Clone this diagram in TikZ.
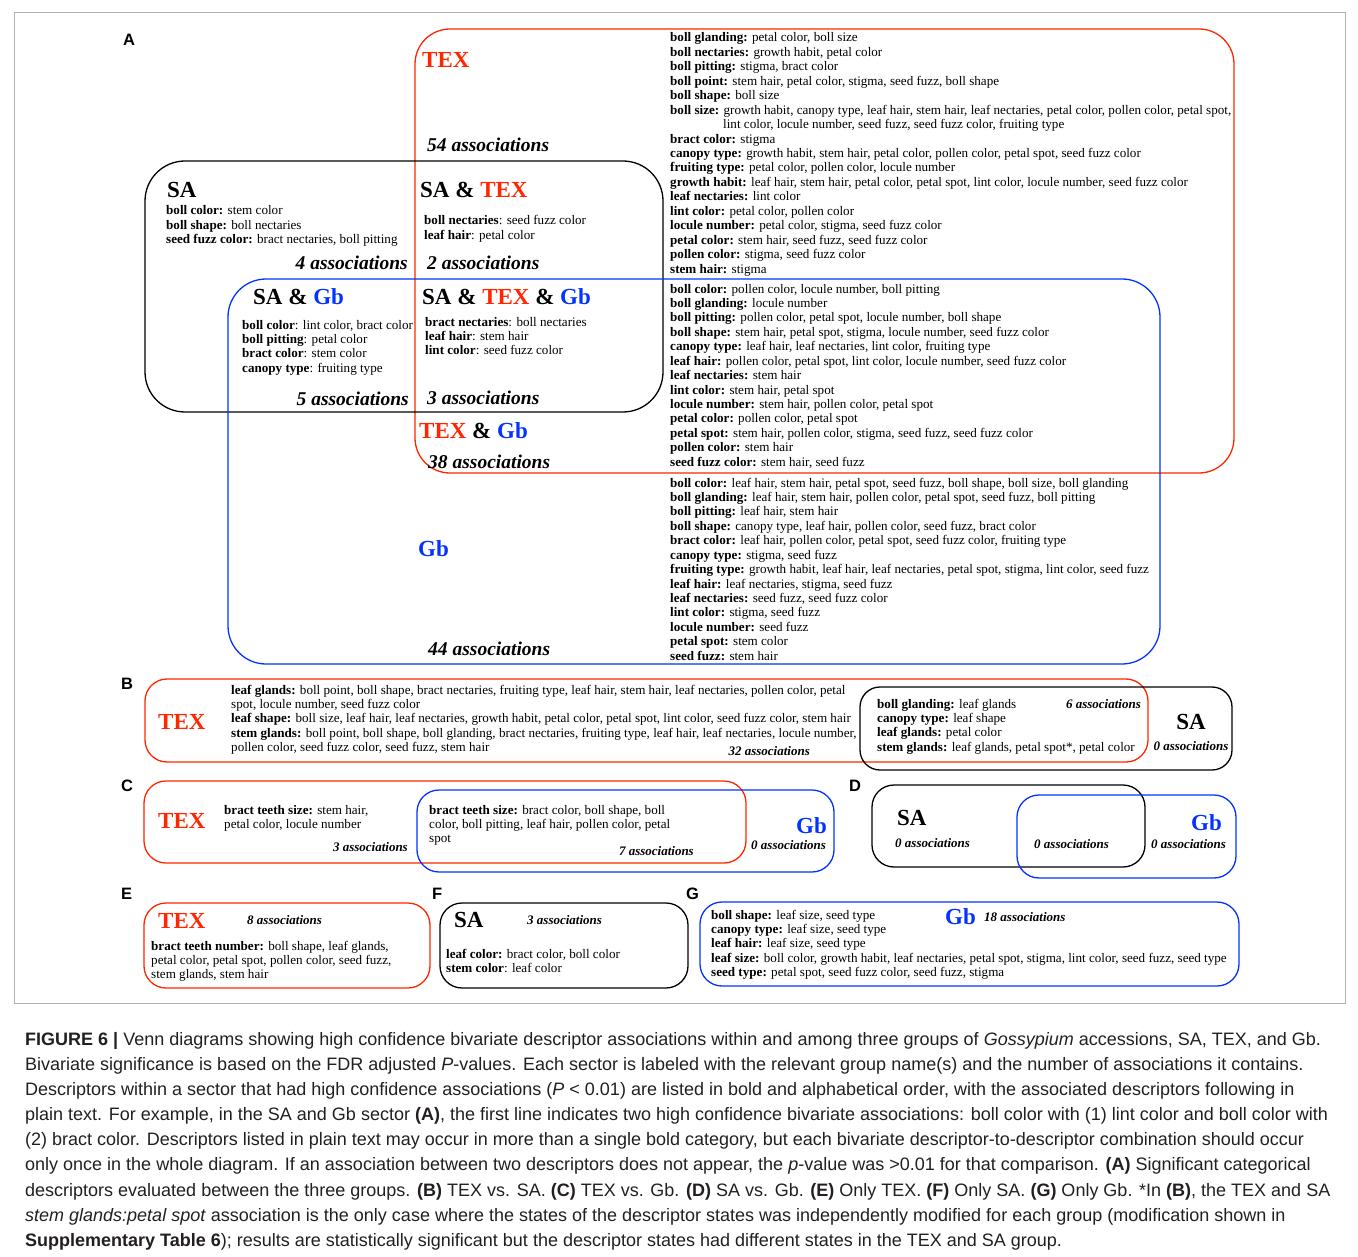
\documentclass[tikz,border=0pt]{standalone}
\usepackage{fontspec}
\setmainfont{Liberation Serif}
\newfontfamily\capfont{Liberation Sans}
\definecolor{texred}{RGB}{255,38,0}
\definecolor{gbblue}{RGB}{4,51,255}
\definecolor{capgray}{RGB}{35,31,32}
\newcommand{\texname}{\textcolor{texred}{TEX}}
\newcommand{\gbname}{\textcolor{gbblue}{Gb}}

\begin{document}
\begin{tikzpicture}
	[x=1pt,y=-1pt,every node/.style={inner sep=0pt},
		tex box/.style={draw=texred,line width=1.3pt,rounded corners=#1},
		sa box/.style={draw=black,line width=1.3pt,rounded corners=#1},
		gb box/.style={draw=gbblue,line width=1.3pt,rounded corners=#1},
		group/.style={font=\fontsize{23}{26}\selectfont\bfseries,anchor=base west},
		big assoc/.style={font=\fontsize{19.5}{22}\selectfont\bfseries\itshape,anchor=base west},
		small assoc/.style={font=\fontsize{13}{15}\selectfont\bfseries\itshape,anchor=base west},
		desc/.style={font=\fontsize{13.1}{14.44}\selectfont,align=left,anchor=base west,yshift={-(#1-1)*14.44pt}},
		panel/.style={font=\capfont\fontsize{16.5}{18}\selectfont\bfseries,anchor=base west},
		caption line/.style={font=\capfont\fontsize{18}{20}\selectfont,text=capgray,anchor=base west}]

	\useasboundingbox (0,0) rectangle (1358,1257);
	\draw[black!30,line width=0.6pt] (14,12) rectangle (1345,1003);

	% panel A
	\node[panel] (pA) at (123,46) {A};
	\draw[tex box=35] (415,29) rectangle (1234,473);
	\draw[sa box=40] (145,161) rectangle (663,412);
	\draw[gb box=38] (228,279) rectangle (1160,664);

	\node[group,text=texred] (texA) at (422,68) {TEX};
	\node[big assoc] (texAn) at (427,152) {54 associations};
	\node[desc=17] (texAd) at (670,42) {\textbf{boll glanding:} petal color, boll size\\
		\textbf{boll nectaries:} growth habit, petal color\\
		\textbf{boll pitting:} stigma, bract color\\
		\textbf{boll point:} stem hair, petal color, stigma, seed fuzz, boll shape\\
		\textbf{boll shape:} boll size\\
		\textbf{boll size:} growth habit, canopy type, leaf hair, stem hair, leaf nectaries, petal color, pollen color, petal spot,\\
		\hspace*{53pt}lint color, locule number, seed fuzz, seed fuzz color, fruiting type\\
		\textbf{bract color:} stigma\\
		\textbf{canopy type:} growth habit, stem hair, petal color, pollen color, petal spot, seed fuzz color\\
		\textbf{fruiting type:} petal color, pollen color, locule number\\
		\textbf{growth habit:} leaf hair, stem hair, petal color, petal spot, lint color, locule number, seed fuzz color\\
		\textbf{leaf nectaries:} lint color\\
		\textbf{lint color:} petal color, pollen color\\
		\textbf{locule number:} petal color, stigma, seed fuzz color\\
		\textbf{petal color:} stem hair, seed fuzz, seed fuzz color\\
		\textbf{pollen color:} stigma, seed fuzz color\\
		\textbf{stem hair:} stigma};

	\node[group] (saA) at (167,198) {SA};
	\node[desc=3] (saAd) at (166,215) {\textbf{boll color:} stem color\\
		\textbf{boll shape:} boll nectaries\\
		\textbf{seed fuzz color:} bract nectaries, boll pitting};
	\node[big assoc,anchor=base east] (saAn) at (408,270) {4 associations};

	\node[group] (satexA) at (420,198) {SA \& \texname};
	\node[desc=2] (satexAd) at (424,225) {\textbf{boll nectaries}: seed fuzz color\\
		\textbf{leaf hair}: petal color};
	\node[big assoc] (satexAn) at (427,270) {2 associations};

	\node[group] (sagbA) at (253,305) {SA \& \gbname};
	\node[desc=4] (sagbAd) at (242,329) {\textbf{boll color}: lint color, bract color\\
		\textbf{boll pitting}: petal color\\
		\textbf{bract color}: stem color\\
		\textbf{canopy type}: fruiting type};
	\node[big assoc,anchor=base east] (sagbAn) at (409,406) {5 associations};

	\node[group] (allA) at (422,305) {SA \& \texname{} \& \gbname};
	\node[desc=3] (allAd) at (425,326) {\textbf{bract nectaries}: boll nectaries\\
		\textbf{leaf hair}: stem hair\\
		\textbf{lint color}: seed fuzz color};
	\node[big assoc] (allAn) at (427,404) {3 associations};

	\node[group] (texgbA) at (419,438) {\texname{} \& \gbname};
	\node[big assoc] (texgbAn) at (428,468) {38 associations};
	\node[desc=13] (texgbAd) at (670,293) {\textbf{boll color:} pollen color, locule number, boll pitting\\
		\textbf{boll glanding:} locule number\\
		\textbf{boll pitting:} pollen color, petal spot, locule number, boll shape\\
		\textbf{boll shape:} stem hair, petal spot, stigma, locule number, seed fuzz color\\
		\textbf{canopy type:} leaf hair, leaf nectaries, lint color, fruiting type\\
		\textbf{leaf hair:} pollen color, petal spot, lint color, locule number, seed fuzz color\\
		\textbf{leaf nectaries:} stem hair\\
		\textbf{lint color:} stem hair, petal spot\\
		\textbf{locule number:} stem hair, pollen color, petal spot\\
		\textbf{petal color:} pollen color, petal spot\\
		\textbf{petal spot:} stem hair, pollen color, stigma, seed fuzz, seed fuzz color\\
		\textbf{pollen color:} stem hair\\
		\textbf{seed fuzz color:} stem hair, seed fuzz};

	\node[group,text=gbblue] (gbA) at (418,556) {Gb};
	\node[big assoc] (gbAn) at (428,655) {44 associations};
	\node[desc=13] (gbAd) at (670,487) {\textbf{boll color:} leaf hair, stem hair, petal spot, seed fuzz, boll shape, boll size, boll glanding\\
		\textbf{boll glanding:} leaf hair, stem hair, pollen color, petal spot, seed fuzz, boll pitting\\
		\textbf{boll pitting:} leaf hair, stem hair\\
		\textbf{boll shape:} canopy type, leaf hair, pollen color, seed fuzz, bract color\\
		\textbf{bract color:} leaf hair, pollen color, petal spot, seed fuzz color, fruiting type\\
		\textbf{canopy type:} stigma, seed fuzz\\
		\textbf{fruiting type:} growth habit, leaf hair, leaf nectaries, petal spot, stigma, lint color, seed fuzz\\
		\textbf{leaf hair:} leaf nectaries, stigma, seed fuzz\\
		\textbf{leaf nectaries:} seed fuzz, seed fuzz color\\
		\textbf{lint color:} stigma, seed fuzz\\
		\textbf{locule number:} seed fuzz\\
		\textbf{petal spot:} stem color\\
		\textbf{seed fuzz:} stem hair};

	% panel B
	\node[panel] (pB) at (121,689) {B};
	\draw[tex box=22] (145,679) rectangle (1148,762);
	\draw[sa box=20] (860,687) rectangle (1232,770);
	\node[group,text=texred] (texB) at (158,729) {TEX};
	\node[desc=5] (texBd) at (231,694) {\textbf{leaf glands:} boll point, boll shape, bract nectaries, fruiting type, leaf hair, stem hair, leaf nectaries, pollen color, petal\\
		spot, locule number, seed fuzz color\\
		\textbf{leaf shape:} boll size, leaf hair, leaf nectaries, growth habit, petal color, petal spot, lint color, seed fuzz color, stem hair\\
		\textbf{stem glands:} boll point, boll shape, boll glanding, bract nectaries, fruiting type, leaf hair, leaf nectaries, locule number,\\
		pollen color, seed fuzz color, seed fuzz, stem hair};
	\node[small assoc,anchor=base east] (texBn) at (810,755) {32 associations};
	\node[desc=4] (bothBd) at (877,708) {\textbf{boll glanding:} leaf glands\\
		\textbf{canopy type:} leaf shape\\
		\textbf{leaf glands:} petal color\\
		\textbf{stem glands:} leaf glands, petal spot*, petal color};
	\node[small assoc,anchor=base east] (bothBn) at (1141,708) {6 associations};
	\node[group,anchor=base] (saB) at (1191,729) {SA};
	\node[small assoc,anchor=base] (saBn) at (1191,750) {0 associations};

	% panel C
	\node[panel] (pC) at (121,791) {C};
	\draw[tex box=22] (144,781) rectangle (746,863);
	\draw[gb box=22] (417,790) rectangle (834,872);
	\node[group,text=texred] (texC) at (158,828) {TEX};
	\node[desc=2] (texCd) at (224,814) {\textbf{bract teeth size:} stem hair,\\
		petal color, locule number};
	\node[small assoc,anchor=base east] (texCn) at (408,851) {3 associations};
	\node[desc=3] (bothCd) at (429,814) {\textbf{bract teeth size:} bract color, boll shape, boll\\
		color, boll pitting, leaf hair, pollen color, petal\\
		spot};
	\node[small assoc,anchor=base east] (bothCn) at (694,855) {7 associations};
	\node[group,text=gbblue,anchor=base east] (gbC) at (827,833) {Gb};
	\node[small assoc] (gbCn) at (751,849) {0 associations};

	% panel D
	\node[panel] (pD) at (849,791) {D};
	\draw[sa box=22] (872,785) rectangle (1145,867);
	\draw[gb box=22] (1017,795) rectangle (1236,878);
	\node[group] (saD) at (897,825) {SA};
	\node[small assoc] (saDn) at (895,847) {0 associations};
	\node[small assoc] (bothDn) at (1034,848) {0 associations};
	\node[group,text=gbblue,anchor=base east] (gbD) at (1222,830) {Gb};
	\node[small assoc] (gbDn) at (1151,848) {0 associations};

	% panel E, F, G
	\node[panel] (pE) at (121,899) {E};
	\draw[tex box=22] (144,903) rectangle (430,988);
	\node[group,text=texred] (texE) at (158,928) {TEX};
	\node[small assoc] (texEn) at (247,924) {8 associations};
	\node[desc=3] (texEd) at (151,950) {\textbf{bract teeth number:} boll shape, leaf glands,\\
		petal color, petal spot, pollen color, seed fuzz,\\
		stem glands, stem hair};

	\node[panel] (pF) at (432,899) {F};
	\draw[sa box=22] (440,903) rectangle (688,988);
	\node[group] (saF) at (454,927) {SA};
	\node[small assoc] (saFn) at (527,924) {3 associations};
	\node[desc=2] (saFd) at (446,958) {\textbf{leaf color:} bract color, boll color\\
		\textbf{stem color}: leaf color};

	\node[panel] (pG) at (686,899) {G};
	\draw[gb box=22] (700,902) rectangle (1239,986);
	\node[group,text=gbblue] (gbG) at (945,924) {Gb};
	\node[small assoc] (gbGn) at (984,921) {18 associations};
	\node[desc=5] (gbGd) at (711,919) {\textbf{boll shape:} leaf size, seed type\\
		\textbf{canopy type:} leaf size, seed type\\
		\textbf{leaf hair:} leaf size, seed type\\
		\textbf{leaf size:} boll color, growth habit, leaf nectaries, petal spot, stigma, lint color, seed fuzz, seed type\\
		\textbf{seed type:} petal spot, seed fuzz color, seed fuzz, stigma};

	% caption
	\node[caption line] (cap1) at (25,1045) {\textbf{FIGURE 6 |} Venn diagrams showing high confidence bivariate descriptor associations within and among three groups of \textit{Gossypium} accessions, SA, TEX, and Gb.};
	\node[caption line] (cap2) at (25,1070) {Bivariate significance is based on the FDR adjusted \textit{P}-values. Each sector is labeled with the relevant group name(s) and the number of associations it contains.};
	\node[caption line] (cap3) at (25,1095) {Descriptors within a sector that had high confidence associations (\textit{P} < 0.01) are listed in bold and alphabetical order, with the associated descriptors following in};
	\node[caption line] (cap4) at (25,1120) {plain text. For example, in the SA and Gb sector \textbf{(A)}, the first line indicates two high confidence bivariate associations: boll color with (1) lint color and boll color with};
	\node[caption line] (cap5) at (25,1145) {(2) bract color. Descriptors listed in plain text may occur in more than a single bold category, but each bivariate descriptor-to-descriptor combination should occur};
	\node[caption line] (cap6) at (25,1170) {only once in the whole diagram. If an association between two descriptors does not appear, the \textit{p}-value was >0.01 for that comparison. \textbf{(A)} Significant categorical};
	\node[caption line] (cap7) at (25,1196) {descriptors evaluated between the three groups. \textbf{(B)} TEX vs. SA. \textbf{(C)} TEX vs. Gb. \textbf{(D)} SA vs. Gb. \textbf{(E)} Only TEX. \textbf{(F)} Only SA. \textbf{(G)} Only Gb. *In \textbf{(B)}, the TEX and SA};
	\node[caption line] (cap8) at (25,1221) {\textit{stem glands:petal spot} association is the only case where the states of the descriptor states was independently modified for each group (modification shown in};
	\node[caption line] (cap9) at (25,1246) {\textbf{Supplementary Table 6}); results are statistically significant but the descriptor states had different states in the TEX and SA group.};

\end{tikzpicture}
\end{document}
